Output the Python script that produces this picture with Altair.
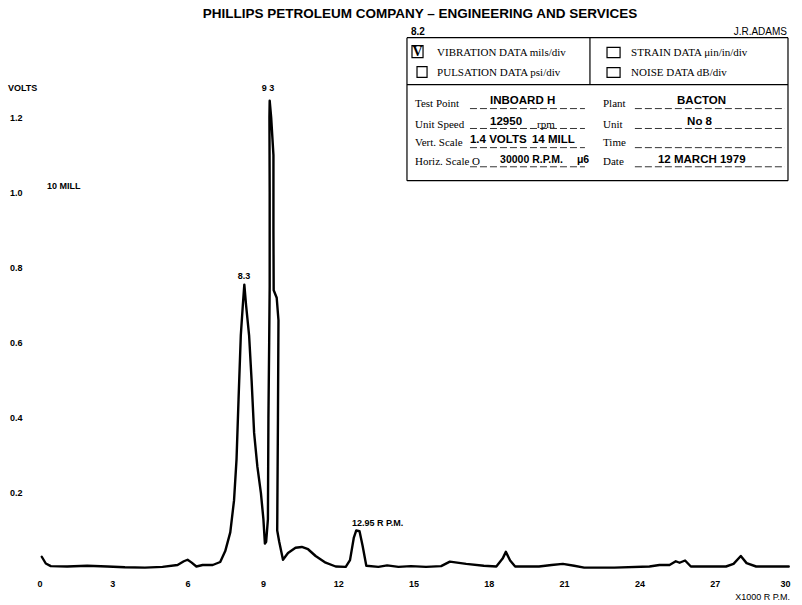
import altair as alt
import pandas as pd

# ---- curve (pen trace), x in thousands of RPM, y in volts ----
rpm_k = [0.19, 0.35, 0.55, 1.2, 2.0, 2.8, 3.5, 4.3, 5.0, 5.6, 5.85, 6.0, 6.15, 6.35, 6.6, 7.0, 7.3,
         7.5, 7.7, 7.85, 7.95, 8.03, 8.12, 8.2, 8.26, 8.33, 8.45, 8.55, 8.65, 8.78, 8.92, 9.02, 9.08,
         9.13, 9.2, 9.22, 9.25, 9.27, 9.27, 9.26, 9.27, 9.33, 9.42, 9.42, 9.43, 9.55, 9.62, 9.6,
         9.57, 9.65, 9.8, 10.0, 10.3, 10.55, 10.8, 11.1, 11.5, 11.9, 12.3, 12.47, 12.62, 12.72,
         12.85, 12.97, 13.12, 13.6, 13.95, 14.4, 14.9, 15.5, 16.1, 16.45, 17.1, 17.8, 18.3, 18.55,
         18.68, 18.85, 19.05, 20.0, 20.5, 20.95, 21.4, 21.8, 23.0, 24.4, 24.8, 25.2, 25.45, 25.6,
         25.82, 26.05, 27.45, 27.75, 28.04, 28.27, 28.65, 29.95]
volts = [0.030, 0.012, 0.005, 0.004, 0.006, 0.004, 0.002, 0.001, 0.003, 0.008, 0.018, 0.022, 0.015,
         0.004, 0.008, 0.008, 0.016, 0.045, 0.095, 0.18, 0.29, 0.45, 0.62, 0.70, 0.755, 0.70, 0.62,
         0.50, 0.36, 0.27, 0.20, 0.13, 0.065, 0.07, 0.13, 0.40, 0.60, 0.75, 1.00, 1.20, 1.245, 1.20,
         1.10, 0.90, 0.74, 0.72, 0.66, 0.40, 0.10, 0.07, 0.022, 0.04, 0.054, 0.056, 0.050, 0.032,
         0.014, 0.004, 0.003, 0.021, 0.08, 0.10, 0.098, 0.06, 0.006, 0.003, 0.007, 0.003, 0.005,
         0.003, 0.005, 0.017, 0.011, 0.006, 0.004, 0.025, 0.043, 0.02, 0.004, 0.004, 0.008, 0.011,
         0.006, 0.001, 0.001, 0.004, 0.008, 0.008, 0.018, 0.014, 0.02, 0.004, 0.004, 0.011, 0.032,
         0.013, 0.004, 0.004]

x_ticks = [0, 3, 6, 9, 12, 15, 18, 21, 24, 27, 30]
y_ticks = [0.2, 0.4, 0.6, 0.8, 1.0, 1.2]

title_text = "PHILLIPS PETROLEUM COMPANY \u2013 ENGINEERING AND SERVICES"

XS = alt.Scale(domain=[0, 30], nice=False, zero=False)
YS = alt.Scale(domain=[0, 1.5], nice=False, zero=False)

XAX = alt.Axis(values=x_ticks, title=None, domain=False, ticks=False, grid=False,
               labelPadding=11, labelFontSize=9, labelFontWeight="bold",
               labelFont="Liberation Sans", labelColor="black", format="d")
YAX = alt.Axis(values=y_ticks, title=None, domain=False, ticks=False, grid=False,
               labelPadding=15, labelFontSize=9, labelFontWeight="bold",
               labelFont="Liberation Sans", labelColor="black", format=".1f")


def X(field="x"):
    return alt.X(f"{field}:Q", scale=XS, axis=XAX)


def Y(field="y"):
    return alt.Y(f"{field}:Q", scale=YS, axis=YAX)


curve = pd.DataFrame({"x": rpm_k, "y": volts, "i": list(range(len(rpm_k)))})

line = alt.Chart(curve).mark_line(
    color="black", strokeWidth=2.4, strokeJoin="round", strokeCap="round"
).encode(x=X(), y=Y(), order="i:Q")

# ---- annotations: (text, x, y, font, size, weight, align) ----
SANS = "Liberation Sans"
SERIF = "Liberation Serif"
notes = [
    (title_text, 15.26, 1.475, SANS, 13.5, "bold", "center"),
    ("8.2", 14.9, 1.429, SANS, 10, "bold", "left"),
    ("J.R.ADAMS", 29.88, 1.429, SANS, 10, "normal", "right"),
    ("VOLTS", -1.155, 1.28, SANS, 9, "bold", "left"),
    ("10 MILL", 0.4, 1.019, SANS, 9, "bold", "left"),
    ("8.3", 8.25, 0.779, SANS, 9, "bold", "center"),
    ("9 3", 9.2, 1.28, SANS, 9, "bold", "center"),
    ("12.95 R P.M.", 12.55, 0.12, SANS, 9, "bold", "left"),
    ("X1000 R P.M.", 30.0, -0.077, SANS, 9, "normal", "right"),
    # form labels
    ("VIBRATION DATA mils/div", 15.94, 1.373, SERIF, 11, "normal", "left"),
    ("PULSATION DATA psi/div", 15.94, 1.32, SERIF, 11, "normal", "left"),
    ("STRAIN DATA \u03bcin/in/div", 23.67, 1.373, SERIF, 11, "normal", "left"),
    ("NOISE DATA dB/div", 23.67, 1.32, SERIF, 11, "normal", "left"),
    ("V", 15.16, 1.376, SERIF, 14, "bold", "center"),
    ("Test Point", 15.06, 1.235, SERIF, 11, "normal", "left"),
    ("Unit Speed", 15.06, 1.181, SERIF, 11, "normal", "left"),
    ("Vert. Scale", 15.06, 1.133, SERIF, 11, "normal", "left"),
    ("Horiz. Scale O", 15.06, 1.083, SERIF, 11, "normal", "left"),
    ("Plant", 22.55, 1.235, SERIF, 11, "normal", "left"),
    ("Unit", 22.55, 1.181, SERIF, 11, "normal", "left"),
    ("Time", 22.55, 1.133, SERIF, 11, "normal", "left"),
    ("Date", 22.55, 1.083, SERIF, 11, "normal", "left"),
    ("rpm", 19.92, 1.181, SERIF, 11, "normal", "left"),
    # form values
    ("INBOARD H", 18.05, 1.243, SANS, 11.5, "bold", "left"),
    ("12950", 18.05, 1.189, SANS, 11.5, "bold", "left"),
    ("1.4 VOLTS", 17.25, 1.139, SANS, 11.5, "bold", "left"),
    ("14 MILL", 19.72, 1.139, SANS, 11.5, "bold", "left"),
    ("30000 R.P.M.", 18.45, 1.088, SANS, 10.5, "bold", "left"),
    ("\u03bc6", 21.51, 1.086, SANS, 10.5, "bold", "left"),
    ("BACTON", 25.5, 1.243, SANS, 11.5, "bold", "left"),
    ("No 8", 25.9, 1.189, SANS, 11.5, "bold", "left"),
    ("12 MARCH 1979", 24.74, 1.088, SANS, 11.5, "bold", "left"),
]

layers = [line]
for t, x, y, font, size, weight, align in notes:
    d = pd.DataFrame({"x": [x], "y": [y], "t": [t]})
    layers.append(
        alt.Chart(d).mark_text(
            font=font, fontSize=size, fontWeight=weight, align=align,
            baseline="middle", color="black"
        ).encode(x=X(), y=Y(), text="t:N")
    )

# ---- form box lines ----
box_x = [14.74, 14.74, 29.92, 14.74, 14.74, 22.03]
box_x2 = [29.92, 29.92, 29.92, 14.74, 29.92, 22.03]
box_y = [1.413, 1.032, 1.032, 1.032, 1.288, 1.288]
box_y2 = [1.413, 1.032, 1.413, 1.413, 1.288, 1.413]
boxdf = pd.DataFrame({"x": box_x, "x2": box_x2, "y": box_y, "y2": box_y2})
layers.append(
    alt.Chart(boxdf).mark_rule(color="black", strokeWidth=1.2).encode(
        x=X(), x2="x2:Q", y=Y(), y2="y2:Q",
    )
)

# underlines of the form fields
ul_x = [17.25, 17.25, 17.25, 17.25, 23.82, 23.82, 23.82, 23.82]
ul_x2 = [21.83, 21.83, 21.83, 21.83, 29.8, 29.8, 29.8, 29.8]
ul_y = [1.224, 1.171, 1.12, 1.069, 1.224, 1.171, 1.12, 1.069]
uldf = pd.DataFrame({"x": ul_x, "x2": ul_x2, "y": ul_y, "y2": ul_y})
layers.append(
    alt.Chart(uldf).mark_rule(color="black", strokeWidth=0.8, strokeDash=[7, 3]).encode(
        x=X(), x2="x2:Q", y=Y(), y2="y2:Q",
    )
)

# checkboxes
cb_x = [14.94, 15.14, 22.71, 22.71]
cb_x2 = [15.38, 15.54, 23.23, 23.23]
cb_y = [1.36, 1.307, 1.36, 1.307]
cb_y2 = [1.392, 1.336, 1.387, 1.333]
cbdf = pd.DataFrame({"x": cb_x, "x2": cb_x2, "y": cb_y, "y2": cb_y2})
layers.append(
    alt.Chart(cbdf).mark_rect(fill=None, stroke="black", strokeWidth=1.2).encode(
        x=X(), x2="x2:Q", y=Y(), y2="y2:Q",
    )
)

chart = alt.layer(*layers).properties(
    width=753, height=563,
    padding={"left": 37, "top": 5, "right": 12, "bottom": 37},
    autosize=alt.AutoSizeParams(type="none"),
    background="white",
).configure_view(stroke=None)

chart.save("out.html", embed_options={"renderer": "svg", "actions": False})
